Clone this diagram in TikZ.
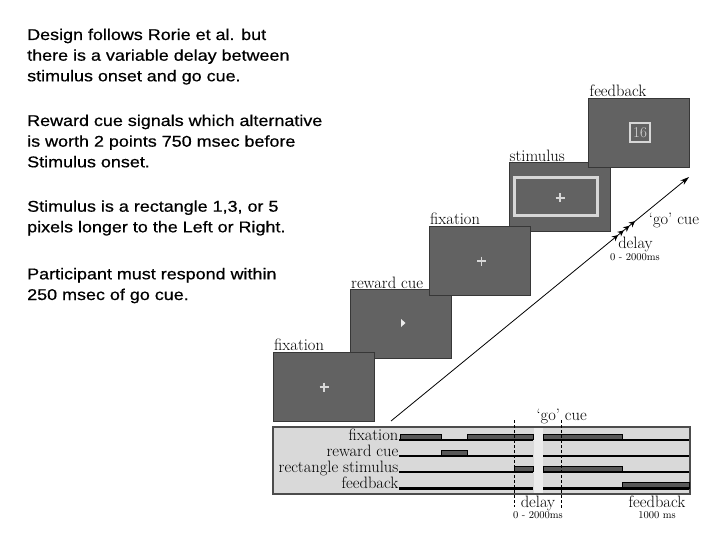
\documentclass[tikz,border=0pt]{standalone}
\usepackage{fontspec}
\newfontfamily\txtfont[FakeStretch=1.15,FakeBold=0.6]{Liberation Sans}
\usetikzlibrary{arrows.meta,decorations.markings}
\definecolor{scr}{RGB}{98,98,98}
\definecolor{scrb}{RGB}{55,55,55}
\definecolor{lite}{RGB}{215,215,215}
\definecolor{boxbg}{RGB}{217,217,217}
\definecolor{gapbg}{RGB}{236,236,236}
\definecolor{barc}{RGB}{88,88,88}
\tikzset{smallhead/.tip={Stealth[length=6pt,width=6pt]}}
\begin{document}
\begin{tikzpicture}[x=1pt,y=-1pt,
  screen/.style={draw=scrb,fill=scr,line width=1pt,minimum width=101pt,minimum height=69pt,inner sep=0pt},
  slabel/.style={anchor=base west,inner sep=0pt,font=\fontsize{16.5}{18}\selectfont},
  para/.style={anchor=base west,inner sep=0pt,font=\txtfont\fontsize{15.6}{18}\selectfont},
  tlabel/.style={anchor=base east,inner sep=0pt,font=\fontsize{16.5}{18}\selectfont},
  clabel/.style={anchor=base,inner sep=0pt,font=\fontsize{16.5}{18}\selectfont},
  smalllabel/.style={anchor=base,inner sep=0pt,font=\fontsize{10.5}{12}\selectfont},
  plus/.style={draw=lite,line width=1.8pt},
  baseline/.style={line width=2.2pt,black},
  hbar/.style={fill=barc,draw=black,line width=0.6pt},
  dashline/.style={line width=0.6pt,dash pattern=on 3pt off 2pt}
]
\useasboundingbox (0,0) rectangle (720,540);

% left text
\node[para] (p1a) at (27,40) {Design follows Rorie et al. but};
\node[para] (p1b) at (27,60.7) {there is a variable delay between};
\node[para] (p1c) at (27,81.3) {stimulus onset and go cue.};
\node[para] (p2a) at (27,126) {Reward cue signals which alternative};
\node[para] (p2b) at (27,146.7) {is worth 2 points 750 msec before};
\node[para] (p2c) at (27,167.3) {Stimulus onset.};
\node[para] (p3a) at (27,211.7) {Stimulus is a rectangle 1,3, or 5};
\node[para] (p3b) at (27,232.3) {pixels longer to the Left or Right.};
\node[para] (p4a) at (27,279.3) {Participant must respond within};
\node[para] (p4b) at (27,300) {250 msec of go cue.};

% screens
\node[screen] (s2) at (401,324) {};
\node[screen] (s1) at (324,387) {};
\node[screen] (s4) at (559.5,197) {};
\node[screen] (s5) at (639,133.5) {};
\node[screen] (s3) at (479.5,261) {};

\node[slabel] (l1) at (274,350) {fixation};
\node[slabel] (l2) at (351,288) {reward cue};
\node[slabel] (l3) at (430,224.5) {fixation};
\node[slabel] (l4) at (509.5,161.5) {stimulus};
\node[slabel] (l5) at (589.5,97) {feedback};

% screen contents
\draw[plus] (319.5,387) -- (328.5,387) (324,382.5) -- (324,391.5);
\draw[plus] (477,261) -- (486,261) (481.5,256.5) -- (481.5,265.5);
\fill[gray!15] (401,319) -- (405.5,323) -- (401,327) -- cycle;
\draw[lite,line width=3pt] (514.5,178) rectangle (597,216);
\draw[plus] (555.5,198) -- (564.5,198) (560,193.5) -- (560,202.5);
\node[draw=lite,line width=2pt,minimum width=20pt,minimum height=19pt,inner sep=0pt,
  text=lite,font=\fontsize{15}{15}\selectfont] (fb16) at (640,132.5) {16};

% main arrow
\coordinate (a0) at (391,421);
\coordinate (a1) at (689,177);
\draw[line width=0.8pt,-{Stealth[length=9pt,width=5.5pt]},
  postaction={decorate},
  decoration={markings,
    mark=at position 0.762 with {\arrow{smallhead}},
    mark=at position 0.781 with {\arrow{smallhead}},
    mark=at position 0.800 with {\arrow{smallhead}},
    mark=at position 0.819 with {\arrow{smallhead}}}]
  (a0) -- (a1);
\node[clabel] (go1) at (674,225) {`go' cue};
\node[clabel] (d1) at (635.5,248) {delay};
\node[smalllabel] (d1s) at (635,260) {0 - 2000ms};

% timeline box
\node[draw=black!70,fill=boxbg,line width=1.5pt,minimum width=417pt,minimum height=67pt,inner sep=0pt] (tl) at (481.5,460.5) {};
\fill[gapbg] (533.5,428.3) rectangle (542.5,492.7);

% row labels
\node[tlabel] (tf) at (398.5,440) {fixation};
\node[tlabel] (tr) at (398.5,456) {reward cue};
\node[tlabel] (ts) at (398.5,472) {rectangle stimulus};
\node[tlabel] (tb) at (398.5,488.5) {feedback};

% high bars
\draw[hbar] (400,440) |- (441,434) -- (441,440);
\draw[hbar] (467,440) |- (533,434) -- (533,440);
\draw[hbar] (543,440) |- (622,434) -- (622,440);
\draw[hbar] (441,456) |- (467,450) -- (467,456);
\draw[hbar] (514,472) |- (533,466) -- (533,472);
\draw[hbar] (543,472) |- (622,466) -- (622,472);
\draw[hbar] (622,488.5) |- (689,482.5) -- (689,488.5);

% base lines
\draw[baseline] (398.5,440) -- (533,440) (543,440) -- (689,440);
\draw[baseline] (398.5,456) -- (533,456) (543,456) -- (689,456);
\draw[baseline] (398.5,472) -- (533,472) (543,472) -- (689,472);
\draw[baseline] (398.5,488.5) -- (533,488.5) (543,488.5) -- (689,488.5);

% dashed markers
\coordinate (dA1) at (514.3,420);
\coordinate (dA2) at (514.3,507);
\coordinate (dB1) at (561.5,420);
\coordinate (dB2) at (561.5,508);
\draw[dashline] (dA1) -- (dA2);
\draw[dashline] (dB1) -- (dB2);

\node[clabel] (go2) at (561.7,420) {`go' cue};
\node[clabel] (d2) at (538,507) {delay};
\node[smalllabel] (d2s) at (538,518) {0 - 2000ms};
\node[clabel] (f2) at (657,507) {feedback};
\node[smalllabel] (f2s) at (657,518) {1000 ms};
\end{tikzpicture}
\end{document}
